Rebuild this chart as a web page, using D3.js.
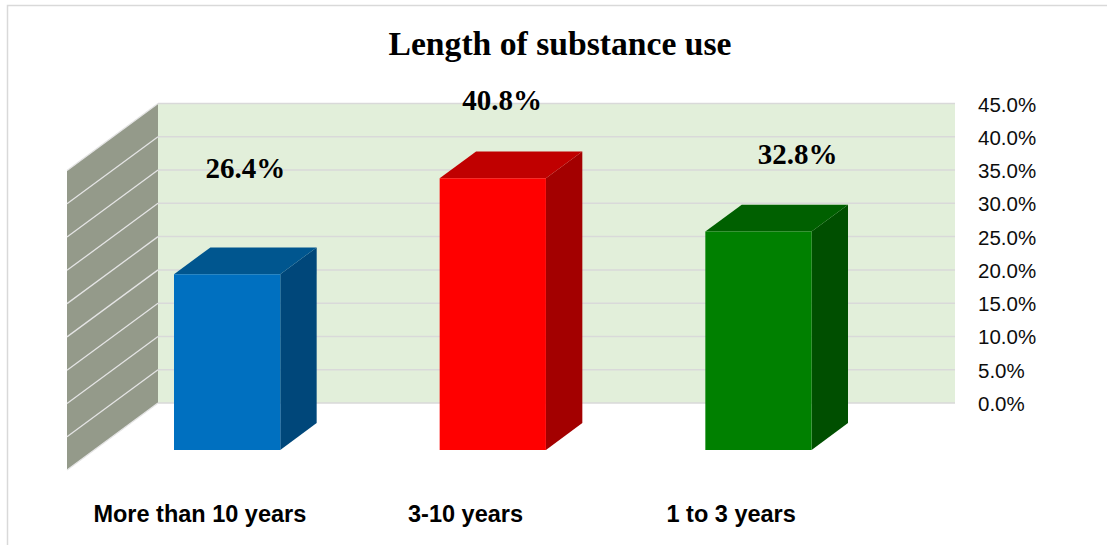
<!DOCTYPE html>
<html>
<head>
<meta charset="utf-8">
<script src="https://cdn.jsdelivr.net/npm/d3@7"></script>
<style>
  html, body { margin: 0; padding: 0; background: #fff; }
  svg { display: block; }
</style>
</head>
<body>
<svg id="chart" width="1107" height="545"></svg>
<script>
// ---- data ----
const categories = ["More than 10 years", "3-10 years", "1 to 3 years"];
const values = [26.4, 40.8, 32.8];
const valueLabels = ["26.4%", "40.8%", "32.8%"];
const tickValues = [0, 5, 10, 15, 20, 25, 30, 35, 40, 45];
const title = "Length of substance use";

// ---- styles / layout ----
const frontColors = ["#0070c0", "#ff0000", "#008000"];
const topColors   = ["#00568f", "#c00000", "#006000"];
const sideColors  = ["#00477a", "#a30000", "#004f00"];
const labelNudge  = [[0, -28], [-9, 0], [21, 0]];   // manual label moves in the original

const svg = d3.select("#chart");

// outer chart border (right/bottom lie outside the picture)
svg.append("rect")
  .attr("x", 7.5).attr("y", 5.5).attr("width", 1120).attr("height", 560)
  .attr("fill", "#fff").attr("stroke", "#d9d9d9").attr("stroke-width", 1.5);

// scales on the back-wall plane
const x = d3.scaleBand().domain(categories).range([158, 955]).paddingInner(0.6).paddingOuter(0.3);
const y = d3.scaleLinear().domain([0, 45]).range([403, 103.5]);
const depth = { dx: 91, dy: 67 };   // screen offset from back wall (z=1) to front (z=0)

function proj(xw, v, z) {
  return [xw - (1 - z) * depth.dx, y(v) + (1 - z) * depth.dy];
}
const pts = arr => arr.map(p => p.join(",")).join(" ");

const [x0, x1] = x.range();

// side wall
svg.append("polygon")
  .attr("points", pts([proj(x0, 0, 1), proj(x0, 45, 1), proj(x0, 45, 0), proj(x0, 0, 0)]))
  .attr("fill", "#949a8a");

// back wall
svg.append("polygon")
  .attr("points", pts([proj(x0, 0, 1), proj(x0, 45, 1), proj(x1, 45, 1), proj(x1, 0, 1)]))
  .attr("fill", "#e2efda");

// grid lines: back wall
svg.append("g").selectAll("line").data(tickValues).join("line")
  .attr("x1", x0).attr("x2", x1)
  .attr("y1", d => y(d)).attr("y2", d => y(d))
  .attr("stroke", "#d9d9d9").attr("stroke-width", 1.5);

// grid lines: side wall
svg.append("g").selectAll("line").data(tickValues).join("line")
  .attr("x1", d => proj(x0, d, 1)[0]).attr("y1", d => proj(x0, d, 1)[1])
  .attr("x2", d => proj(x0, d, 0)[0]).attr("y2", d => proj(x0, d, 0)[1])
  .attr("stroke", "#e4e4e4").attr("stroke-width", 1.3);

// axis tick labels (right)
svg.append("g").selectAll("text").data(tickValues).join("text")
  .attr("x", 978).attr("y", d => y(d) + 8)
  .attr("font-family", "'Liberation Sans', Arial, sans-serif")
  .attr("font-size", 20.5).attr("fill", "#0d0d0d")
  .text(d => d3.format(".1f")(d) + "%");

// bars
const zF = 0.3, zB = 0.7;
const bars = svg.append("g").selectAll("g").data(categories).join("g");
bars.each(function (c, i) {
  const g = d3.select(this);
  const l = x(c), r = x(c) + x.bandwidth(), v = values[i];
  // right side face
  g.append("polygon")
    .attr("points", pts([proj(r, 0, zF), proj(r, v, zF), proj(r, v, zB), proj(r, 0, zB)]))
    .attr("fill", sideColors[i]);
  // top face
  g.append("polygon")
    .attr("points", pts([proj(l, v, zF), proj(l, v, zB), proj(r, v, zB), proj(r, v, zF)]))
    .attr("fill", topColors[i]);
  // front face
  g.append("polygon")
    .attr("points", pts([proj(l, 0, zF), proj(l, v, zF), proj(r, v, zF), proj(r, 0, zF)]))
    .attr("fill", frontColors[i]);
});

// data labels
svg.append("g").selectAll("text").data(categories).join("text")
  .attr("x", (c, i) => proj(x(c) + x.bandwidth() / 2, values[i], 0.5)[0] + labelNudge[i][0])
  .attr("y", (c, i) => proj(x(c) + x.bandwidth() / 2, values[i], 0.5)[1] - 54.5 + labelNudge[i][1])
  .attr("text-anchor", "middle")
  .attr("font-family", "'Liberation Serif', 'Times New Roman', serif")
  .attr("font-weight", "bold").attr("font-size", 29).attr("fill", "#000")
  .text((c, i) => valueLabels[i]);

// category labels (front edge of floor)
svg.append("g").selectAll("text").data(categories).join("text")
  .attr("x", c => proj(x(c) + x.bandwidth() / 2, 0, 0)[0])
  .attr("y", 522)
  .attr("text-anchor", "middle")
  .attr("font-family", "'Liberation Sans', Arial, sans-serif")
  .attr("font-weight", "bold").attr("font-size", 23.5).attr("fill", "#000")
  .text(c => c);

// title
svg.append("text")
  .attr("x", 560).attr("y", 55)
  .attr("text-anchor", "middle")
  .attr("font-family", "'Liberation Serif', 'Times New Roman', serif")
  .attr("font-weight", "bold").attr("font-size", 33.5).attr("fill", "#000")
  .attr("textLength", 343).attr("lengthAdjust", "spacingAndGlyphs")
  .text(title);
</script>
</body>
</html>
